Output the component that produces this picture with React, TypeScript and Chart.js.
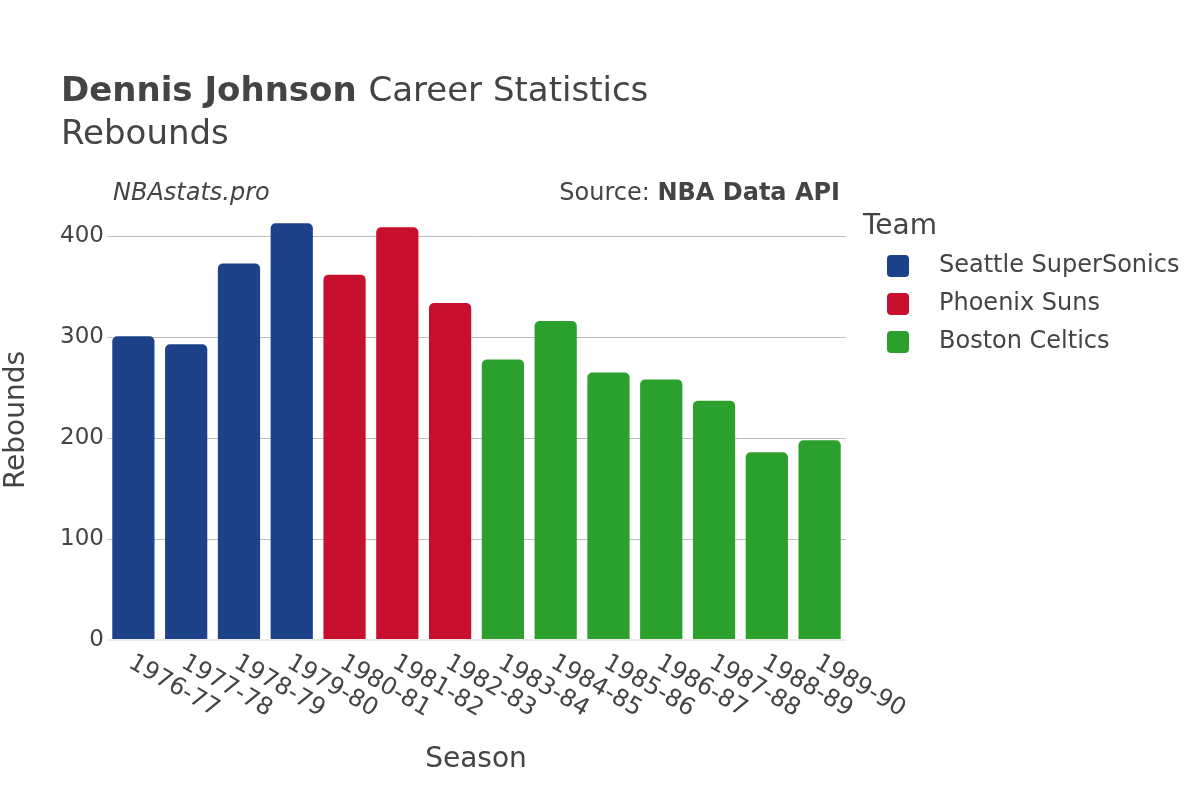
import React, { useEffect, useRef } from "react";
import { Chart, registerables } from "chart.js";

Chart.register(...registerables);

const seasons = ["1976-77","1977-78","1978-79","1979-80","1980-81","1981-82","1982-83","1983-84","1984-85","1985-86","1986-87","1987-88","1988-89","1989-90"];
const seattle = [301, 293, 373, 413, null, null, null, null, null, null, null, null, null, null];
const phoenix = [null, null, null, null, 362, 409, 334, null, null, null, null, null, null, null];
const boston = [null, null, null, null, null, null, null, 278, 316, 265, 258, 237, 186, 198];
const teams = ["Seattle SuperSonics", "Phoenix Suns", "Boston Celtics"];
const teamColors = ["#1d428a", "#c8102e", "#2ca02c"];
const yTicks = [0, 100, 200, 300, 400];

const FONT = '"DejaVu Sans", Verdana, sans-serif';
const TEXT = "#444";

const overlay = {
  id: "overlay",
  afterDraw(chart: any) {
    const ctx = chart.ctx;
    const xs = chart.scales.x;
    ctx.save();
    ctx.fillStyle = TEXT;
    // Title
    ctx.textBaseline = "alphabetic";
    ctx.textAlign = "left";
    ctx.font = `bold 34px ${FONT}`;
    const bold = "Dennis Johnson";
    ctx.fillText(bold, 61, 101);
    const bw = ctx.measureText(bold + " ").width;
    ctx.font = `34px ${FONT}`;
    ctx.fillText("Career Statistics", 61 + bw, 101);
    ctx.fillText("Rebounds", 61, 144);
    // watermark / source
    ctx.font = `italic 24px ${FONT}`;
    ctx.fillText("NBAstats.pro", 113, 200);
    ctx.textAlign = "right";
    ctx.font = `bold 24px ${FONT}`;
    const src = "NBA Data API";
    ctx.fillText(src, 840, 200);
    const sw = ctx.measureText(src).width;
    ctx.font = `24px ${FONT}`;
    ctx.fillText("Source: ", 840 - sw, 200);
    // x tick labels
    ctx.font = `24px ${FONT}`;
    ctx.textAlign = "left";
    ctx.textBaseline = "middle";
    seasons.forEach((s, i) => {
      const x = xs.getPixelForValue(i);
      ctx.save();
      ctx.translate(x - 3, 661);
      ctx.rotate(Math.PI / 6);
      ctx.fillText(s, 0, 0);
      ctx.restore();
    });
    // axis titles
    ctx.font = `28px ${FONT}`;
    ctx.textAlign = "center";
    ctx.fillText("Season", 476, 760);
    ctx.save();
    ctx.translate(17, 420);
    ctx.rotate(-Math.PI / 2);
    ctx.fillText("Rebounds", 0, 0);
    ctx.restore();
    // legend
    ctx.textAlign = "left";
    ctx.font = `28px ${FONT}`;
    ctx.fillText("Team", 863, 227);
    ctx.font = `24px ${FONT}`;
    teams.forEach((t, i) => {
      const cy = 266 + i * 38;
      ctx.fillStyle = teamColors[i];
      ctx.beginPath();
      (ctx as any).roundRect(887, cy - 11, 22, 22, 4);
      ctx.fill();
      ctx.fillStyle = TEXT;
      ctx.fillText(t, 939, cy);
    });
    ctx.restore();
  },
};

export default function App() {
  const ref = useRef<HTMLCanvasElement>(null);
  useEffect(() => {
    const mk = (label: string, data: (number | null)[], color: string) => ({
      label,
      data,
      backgroundColor: color,
      borderWidth: 0,
      borderRadius: 5,
      grouped: false,
      barPercentage: 0.8,
      categoryPercentage: 1,
    });
    const chart = new Chart(ref.current as HTMLCanvasElement, {
      type: "bar",
      data: {
        labels: seasons,
        datasets: [
          mk(teams[0], seattle, teamColors[0]),
          mk(teams[1], phoenix, teamColors[1]),
          mk(teams[2], boston, teamColors[2]),
        ],
      },
      options: {
        responsive: false,
        animation: false,
        layout: { padding: { top: 202, left: 0, right: 354, bottom: 160 } },
        plugins: { legend: { display: false }, tooltip: { enabled: false }, title: { display: false } },
        scales: {
          x: {
            ticks: { display: false },
            grid: { display: false },
            border: { display: false },
            afterFit: (s: any) => { s.height = 0; },
          },
          y: {
            min: 0,
            max: 434,
            afterBuildTicks: (s: any) => { s.ticks = yTicks.map((v) => ({ value: v })); },
            afterFit: (s: any) => { s.width = 107; },
            ticks: { color: TEXT, font: { family: FONT, size: 23 }, padding: 3 },
            grid: {
              drawTicks: false,
              color: (c: any) => (c.tick && c.tick.value === 0 ? "#ebebeb" : "#bdbdbd"),
              lineWidth: (c: any) => (c.tick && c.tick.value === 0 ? 2 : 1),
            },
            border: { display: false },
          },
        },
      },
      plugins: [overlay],
    } as any);
    return () => chart.destroy();
  }, []);
  return (
    <div style={{ position: "fixed", left: 0, top: 0, width: 1200, height: 800, background: "#fff" }}>
      <canvas ref={ref} width={1200} height={800} style={{ width: 1200, height: 800 }} />
    </div>
  );
}
